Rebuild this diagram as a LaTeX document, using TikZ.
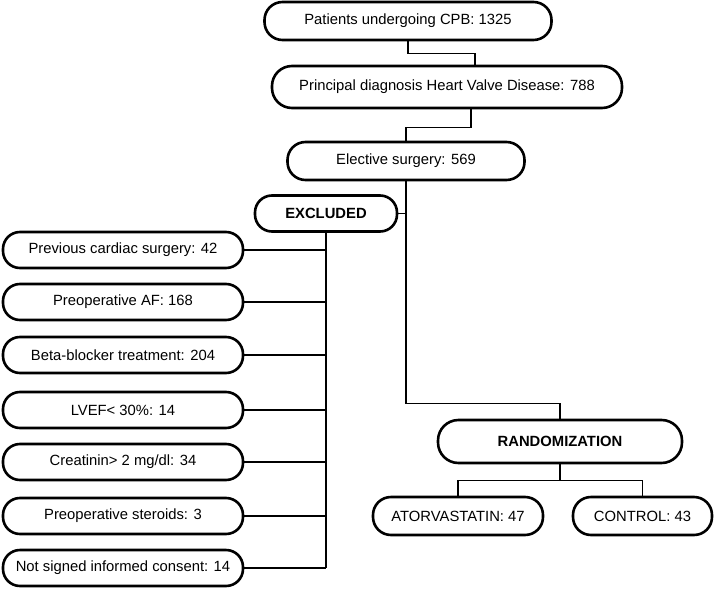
\documentclass[tikz,border=0pt]{standalone}
\usepackage{fontspec}
\setmainfont{Liberation Sans}
\begin{document}
\begin{tikzpicture}[x=1pt,y=-1pt,
  box/.style={draw, line width=2.6pt, inner sep=0pt, align=center,
    font=\fontsize{14.8}{16}\selectfont, minimum height=#1, rounded corners=#1/2-1pt},
  box/.default=37pt,
  conn/.style={line width=1.2pt}]
\useasboundingbox (0,0) rectangle (714,591);
\node[box=38pt, minimum width=287pt] (b1) at (408,21) {Patients undergoing CPB: 1325};
\node[box=42pt, minimum width=350pt] (b2) at (447,87) {Principal diagnosis Heart Valve Disease: 788};
\node[box=38pt, minimum width=237pt] (b3) at (406,161) {Elective surgery: 569};
\node[box=36pt, minimum width=142pt, font=\fontsize{14.8}{16}\selectfont\bfseries] (ex) at (326,213.5) {EXCLUDED};
\node[box=36pt, minimum width=240pt] (e1) at (123,250) {Previous cardiac surgery: 42};
\node[box=36pt, minimum width=240pt] (e2) at (123,302) {Preoperative AF: 168};
\node[box=36pt, minimum width=240pt] (e3) at (123,355) {Beta-blocker treatment: 204};
\node[box=36pt, minimum width=240pt] (e4) at (123,410) {LVEF< 30\%: 14};
\node[box=36pt, minimum width=240pt] (e5) at (123,462) {Creatinin> 2 mg/dl: 34};
\node[box=36pt, minimum width=240pt] (e6) at (123,516) {Preoperative steroids: 3};
\node[box=36pt, minimum width=240pt] (e7) at (123,568) {Not signed informed consent: 14};
\node[box=43pt, minimum width=244pt, font=\fontsize{14.8}{16}\selectfont\bfseries] (r) at (560,441.5) {RANDOMIZATION};
\node[box=38pt, minimum width=170pt] (a) at (458,516) {ATORVASTATIN: 47};
\node[box=38pt, minimum width=139pt] (c) at (642.5,516) {CONTROL: 43};

\draw[conn] (b1.south) -- ++(0,12) -| ([xshift=28pt]b2.north);
\draw[conn] ([xshift=24pt]b2.south) -- ++(0,18) -| (b3.north);
\draw[conn] (b3.south) -- ++(0,222) -| (r.north);
\draw[conn] (ex.east) -- (ex.east -| b3.south);
\draw[conn] (ex.south) -- (ex.south |- e7.east);
\foreach \n in {e1,e2,e3,e4,e5,e6,e7}
  \draw[conn] (\n.east) -- (\n.east -| ex.south);
\draw[conn] (r.south) -- ++(0,16) -| (a.north);
\draw[conn] (r.south) ++(0,16) -| (c.north);
\end{tikzpicture}
\end{document}
